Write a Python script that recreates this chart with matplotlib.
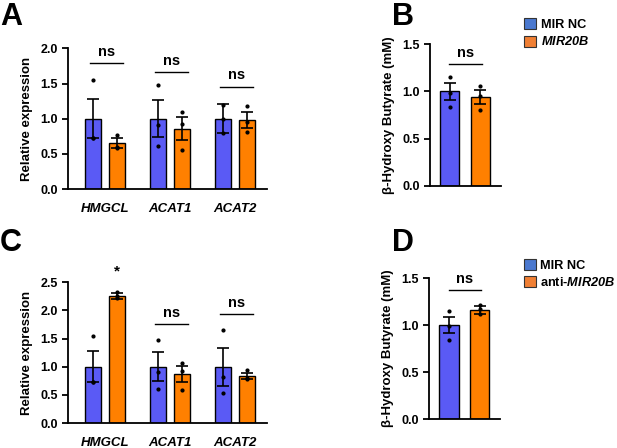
import numpy as np
import matplotlib.pyplot as plt
from matplotlib.patches import Patch

plt.rcParams['font.family'] = ['Liberation Sans', 'DejaVu Sans']
plt.rcParams['font.weight'] = 'bold'
plt.rcParams['mathtext.fontset'] = 'custom'
plt.rcParams['mathtext.bfit'] = 'Liberation Sans:italic:bold'
plt.rcParams['mathtext.rm'] = 'Liberation Sans:bold'

blue = '#5a5af5'
orange = '#ff8000'
leg_blue = '#4a78cf'
leg_orange = '#f07f33'

genes = ['HMGCL', 'ACAT1', 'ACAT2']

# panel A: MIR NC vs MIR20B, relative expression
a_nc_mean = [1.0, 1.0, 1.0]
a_nc_err_hi = [0.28, 0.26, 0.21]
a_nc_err_lo = [0.28, 0.26, 0.21]
a_nc_dots = [[1.55, 0.73, 0.72], [1.48, 0.91, 0.61], [1.20, 0.99, 0.80]]
a_mir_mean = [0.65, 0.86, 0.98]
a_mir_err_hi = [0.07, 0.16, 0.12]
a_mir_err_lo = [0.06, 0.16, 0.11]
a_mir_dots = [[0.77, 0.60, 0.58], [1.09, 0.93, 0.56], [1.18, 0.96, 0.81]]
a_sig = ['ns', 'ns', 'ns']
a_sig_y = [1.79, 1.66, 1.455]

# panel C: MIR NC vs anti-MIR20B, relative expression
c_nc_mean = [1.0, 1.0, 1.0]
c_nc_err_hi = [0.28, 0.26, 0.34]
c_nc_err_lo = [0.28, 0.26, 0.34]
c_nc_dots = [[1.55, 0.73, 0.72], [1.48, 0.91, 0.61], [1.66, 0.81, 0.53]]
c_anti_mean = [2.26, 0.87, 0.83]
c_anti_err_hi = [0.05, 0.15, 0.05]
c_anti_err_lo = [0.05, 0.15, 0.05]
c_anti_dots = [[2.32, 2.25, 2.22], [1.07, 0.93, 0.58], [0.94, 0.80, 0.78]]
c_sig = ['*', 'ns', 'ns']
c_sig_y = [2.7, 1.76, 1.94]

# panel B / D: beta-hydroxybutyrate
b_mean = [1.0, 0.94]
b_err = [0.09, 0.075]
b_dots = [[1.15, 0.98, 0.84], [1.06, 0.95, 0.80]]
b_sig_y = 1.29

d_mean = [1.0, 1.16]
d_err = [0.09, 0.045]
d_dots = [[1.15, 0.99, 0.84], [1.21, 1.17, 1.12]]
d_sig_y = 1.37


def style_axis(ax):
    for s in ['top', 'right']:
        ax.spines[s].set_visible(False)
    for s in ['left', 'bottom']:
        ax.spines[s].set_linewidth(1.3)
    ax.tick_params(axis='y', width=1.3, length=4, labelsize=9)
    ax.tick_params(axis='x', length=0, labelsize=9.5, pad=10)


def draw_bars(ax, xs, means, lo, hi, dots, color, width):
    ax.bar(xs, means, width=width, color=color, edgecolor='black', linewidth=1.0, zorder=2)
    ax.errorbar(xs, means, yerr=[lo, hi], fmt='none', ecolor='black',
                elinewidth=1.2, capsize=4.5, capthick=1.2, zorder=3)
    for x, pts in zip(xs, dots):
        ax.plot([x] * len(pts), pts, 'o', color='black', markersize=2.0, zorder=4)


def expression_panel(ax, nc_m, nc_lo, nc_hi, nc_d, tr_m, tr_lo, tr_hi, tr_d, sig, sig_y, ymax, step):
    x = np.arange(len(genes))
    off = 0.185
    draw_bars(ax, x - off, nc_m, nc_lo, nc_hi, nc_d, blue, 0.246)
    draw_bars(ax, x + off, tr_m, tr_lo, tr_hi, tr_d, orange, 0.246)
    for xi, s, y in zip(x, sig, sig_y):
        if s == 'ns':
            ax.plot([xi - 0.23, xi + 0.28], [y, y], color='black', lw=1.0, clip_on=False)
            ax.text(xi + 0.025, y + 0.03 * ymax, 'ns', ha='center', va='bottom',
                    fontsize=10.5, fontweight='bold', clip_on=False)
        else:
            ax.text(xi + off, y, s, ha='center', va='center',
                    fontsize=11, fontweight='bold', clip_on=False)
    ax.set_xlim(-0.57, 2.49)
    ax.set_ylim(0, ymax)
    ax.set_yticks(np.arange(0, ymax + 0.01, step))
    ax.set_yticklabels([f'{v:.1f}' for v in np.arange(0, ymax + 0.01, step)])
    ax.set_xticks(x)
    ax.set_xticklabels(genes, fontstyle='italic')
    ax.set_ylabel('Relative expression', fontsize=9.5, fontweight='bold', labelpad=5)
    style_axis(ax)


def bhb_panel(ax, means, errs, dots, sig_y, legend_labels, leg_y):
    xs = np.arange(2)
    colors = [blue, orange]
    for i in range(2):
        draw_bars(ax, [xs[i]], [means[i]], [errs[i]], [errs[i]], [dots[i]], colors[i], 0.63)
    ax.plot([-0.01, 1.05], [sig_y, sig_y], color='black', lw=1.0, clip_on=False)
    ax.text(0.52, sig_y + 0.04, 'ns', ha='center', va='bottom', fontsize=10.5,
            fontweight='bold', clip_on=False)
    ax.set_xlim(-0.64, 1.66)
    ax.set_ylim(0, 1.5)
    ax.set_yticks([0, 0.5, 1.0, 1.5])
    ax.set_yticklabels(['0.0', '0.5', '1.0', '1.5'])
    ax.set_xticks([])
    ax.set_ylabel('β-Hydroxy Butyrate (mM)', fontsize=9.5, fontweight='bold', labelpad=5)
    style_axis(ax)
    handles = [Patch(facecolor=leg_blue, edgecolor='#333333', linewidth=0.8),
               Patch(facecolor=leg_orange, edgecolor='#333333', linewidth=0.8)]
    ax.legend(handles, legend_labels, loc='upper left', bbox_to_anchor=(1.26, leg_y),
              frameon=False, fontsize=9.2, handlelength=0.95, handleheight=0.95,
              handletextpad=0.35, labelspacing=0.33, borderaxespad=0)


fig = plt.figure(figsize=(6.17, 4.48), dpi=100)

axA = fig.add_axes([0.1107, 0.578, 0.322, 0.314])
expression_panel(axA, a_nc_mean, a_nc_err_lo, a_nc_err_hi, a_nc_dots,
                 a_mir_mean, a_mir_err_lo, a_mir_err_hi, a_mir_dots, a_sig, a_sig_y, 2.0, 0.5)

axC = fig.add_axes([0.1107, 0.0558, 0.322, 0.314])
expression_panel(axC, c_nc_mean, c_nc_err_lo, c_nc_err_hi, c_nc_dots,
                 c_anti_mean, c_anti_err_lo, c_anti_err_hi, c_anti_dots, c_sig, c_sig_y, 2.5, 0.5)

axB = fig.add_axes([0.697, 0.5855, 0.1146, 0.3156])
bhb_panel(axB, b_mean, b_err, b_dots, b_sig_y, ['MIR NC', r'$\mathbfit{MIR20B}$'], 1.22)

axD = fig.add_axes([0.6958, 0.0647, 0.1146, 0.3147])
bhb_panel(axD, d_mean, d_err, d_dots, d_sig_y, ['MIR NC', r'anti-$\mathbfit{MIR20B}$'], 1.17)

for lab, x, y in [('A', 0.0, 0.995), ('B', 0.635, 0.995), ('C', 0.0, 0.49), ('D', 0.635, 0.49)]:
    fig.text(x, y, lab, fontsize=22, fontweight='bold', ha='left', va='top')

fig.savefig('out.png', dpi=100)
